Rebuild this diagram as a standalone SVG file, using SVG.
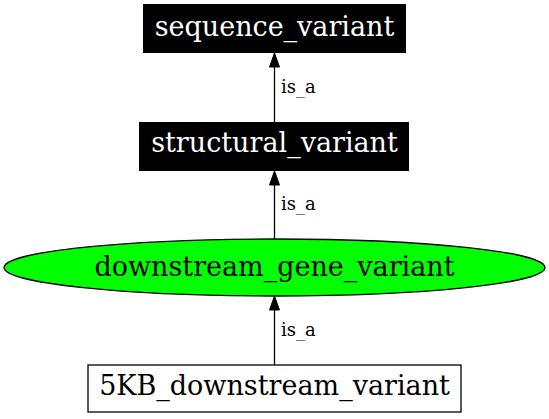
<svg xmlns="http://www.w3.org/2000/svg" width="549" height="419" viewBox="0 0 549 419">
<style>
.node-text{font-family:"DejaVu Serif",serif;font-size:27px;text-anchor:middle}
.lbl{font-family:"DejaVu Serif",serif;font-size:18px}
.edge line{stroke:#000;stroke-width:1.3}
.edge polygon{fill:#000;stroke:#000;stroke-width:1}
</style>
<rect width="549" height="419" fill="#fff"/>
<g id="edges" class="edge">
<line x1="274.5" y1="122" x2="274.5" y2="66"/>
<polygon points="274.5,53 269.5,67 279.5,67"/>
<text class="lbl" x="281" y="93">is_a</text>
<line x1="274.5" y1="239" x2="274.5" y2="184"/>
<polygon points="274.5,171 269.5,185 279.5,185"/>
<text class="lbl" x="281" y="210">is_a</text>
<line x1="274.5" y1="365" x2="274.5" y2="309"/>
<polygon points="274.5,296 269.5,310 279.5,310"/>
<text class="lbl" x="281" y="336">is_a</text>
</g>
<g id="sequence_variant">
<rect x="143" y="4" width="263" height="49" fill="#000"/>
<text class="node-text" x="274.5" y="36" fill="#fff">sequence_variant</text>
</g>
<g id="structural_variant">
<rect x="139" y="122" width="270" height="49" fill="#000"/>
<text class="node-text" x="274.5" y="152" fill="#fff">structural_variant</text>
</g>
<g id="downstream_gene_variant">
<ellipse cx="274.5" cy="267.5" rx="270.5" ry="28.5" fill="#00ff00" stroke="#000" stroke-width="1.3"/>
<text class="node-text" x="274.5" y="276" fill="#000">downstream_gene_variant</text>
</g>
<g id="fiveKB_downstream_variant">
<rect x="88" y="365" width="373" height="47" fill="#fff" stroke="#000" stroke-width="1.3"/>
<text class="node-text" x="274.5" y="395" fill="#000">5KB_downstream_variant</text>
</g>
</svg>
